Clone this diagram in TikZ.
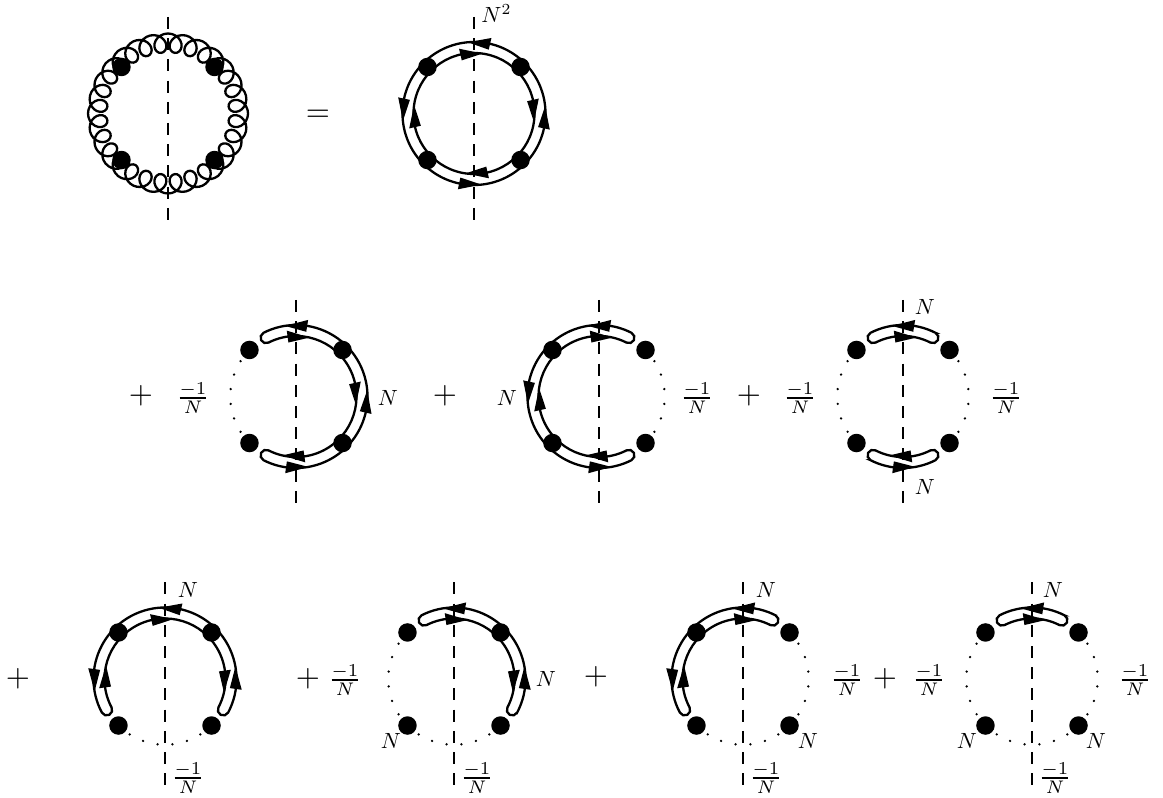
\documentclass[tikz,border=0pt]{standalone}
\usepackage{amsmath,amssymb,amsfonts}
\usepackage{xcolor}
\usepackage{tikz}

\tikzset{
  line/.style={line width=2.3pt},
  cut/.style={line width=2.3pt, dash pattern=on 12pt off 9.2pt},
  blob/.style={circle, fill=black, inner sep=0pt, minimum size=18.5pt},
  lab/.style={inner sep=0pt, scale=2.2},
  frc/.style={inner sep=0pt, scale=2.6},
  big/.style={inner sep=0pt, scale=3.1},
}

% double line running counter-clockwise from angle #1 to angle #2
\newcommand{\bandarc}[2]{
  \draw[line] (#1:71.5) arc[start angle=#1, end angle=#2, radius=71.5]
    arc[start angle=#2, delta angle=180, radius=5.5]
    arc[start angle=#2, end angle=#1, radius=60.5]
    arc[start angle=#1+180, delta angle=180, radius=5.5] -- cycle;
}
% arrow heads on the outer and the inner line
\newcommand{\tipout}[1]{\fill (#1:77.5) -- (#1+18:71.5) -- (#1:65.5) -- cycle;}
\newcommand{\tipin}[1]{\fill (#1:66.5) -- (#1-21:60.5) -- (#1:54.5) -- cycle;}
% six dots, starting from the vertex at angle #1
\newcommand{\dotrun}[1]{
  \foreach \k in {0,...,5} {\fill (#1+12.5+13*\k:65.7) circle[radius=1.3];}
}
\newcommand{\blobs}{
  \node[blob] (ne) at (45:65.8) {};
  \node[blob] (nw) at (135:65.8) {};
  \node[blob] (sw) at (225:65.8) {};
  \node[blob] (se) at (315:65.8) {};
}
\newcommand{\cutline}{
  \coordinate (top) at (0,96.5);
  \coordinate (bot) at (0,-106.5);
  \draw[cut] (top) -- (bot);
}

\begin{document}
\begin{tikzpicture}[x=1pt, y=1pt]
\useasboundingbox (0,0) rectangle (1163,798);

% --- first row ---
\begin{scope}[shift={(168,684.5)}, name prefix=ga-]
  \draw[line] plot[domain=0:360, samples=561, smooth]
    ({70.5*cos(\x)+9.5*cos(29*\x)}, {70.5*sin(\x)+9.5*sin(29*\x)});
  \blobs
  \cutline
\end{scope}
\begin{scope}[shift={(474,684.5)}, name prefix=aa-]
  \draw[line] (0,0) circle[radius=71.5];
  \draw[line] (0,0) circle[radius=60.5];
  \blobs
  \cutline
  \tipout{77} \tipin{103} \tipout{-12} \tipin{13}
  \tipout{168} \tipin{193} \tipout{258} \tipin{283}
\end{scope}
\node[big] (eq) at (318,682) {$=$};
\node[lab, anchor=west] (n2) at (481,784) {$N^2$};

% --- second row ---
\begin{scope}[shift={(296,401.5)}, name prefix=ba-]
  \bandarc{-117}{117}
  \blobs
  \dotrun{135}
  \cutline
  \tipout{81} \tipin{98} \tipout{-13} \tipin{13} \tipout{262} \tipin{278}
\end{scope}
\begin{scope}[shift={(599,401.5)}, name prefix=bb-]
  \bandarc{63}{297}
  \blobs
  \dotrun{-45}
  \cutline
  \tipout{81} \tipin{98} \tipout{168} \tipin{193} \tipout{262} \tipin{278}
\end{scope}
\begin{scope}[shift={(903,401.5)}, name prefix=bc-]
  \bandarc{63}{117}
  \bandarc{243}{297}
  \blobs
  \dotrun{135}
  \dotrun{-45}
  \cutline
  \tipout{81} \tipin{98} \tipout{262} \tipin{278}
\end{scope}

\node[big] (p1) at (141,402) {$+$};
\node[frc] (f1) at (193,400) {$\frac{-1}{N}$};
\node[lab] (n3) at (388,400) {$N$};
\node[big] (p2) at (445,402) {$+$};
\node[lab] (n4) at (507,400) {$N$};
\node[frc] (f2) at (697,400) {$\frac{-1}{N}$};
\node[big] (p3) at (749,402) {$+$};
\node[frc] (f3) at (800,400) {$\frac{-1}{N}$};
\node[lab] (n5) at (925,491) {$N$};
\node[lab] (n6) at (925,311) {$N$};
\node[frc] (f4) at (1006,400) {$\frac{-1}{N}$};

% --- third row ---
\begin{scope}[shift={(165,119)}, name prefix=ca-]
  \bandarc{-28}{208}
  \blobs
  \dotrun{225}
  \cutline
  \tipout{77} \tipin{103} \tipout{-8} \tipin{8} \tipout{172} \tipin{188}
\end{scope}
\begin{scope}[shift={(454,119)}, name prefix=cb-]
  \bandarc{-28}{117}
  \blobs
  \dotrun{135}
  \dotrun{225}
  \cutline
  \tipout{81} \tipin{98} \tipout{-8} \tipin{8}
\end{scope}
\begin{scope}[shift={(743,119)}, name prefix=cc-]
  \bandarc{63}{208}
  \blobs
  \dotrun{-45}
  \dotrun{225}
  \cutline
  \tipout{81} \tipin{98} \tipout{172} \tipin{188}
\end{scope}
\begin{scope}[shift={(1032,119)}, name prefix=cd-]
  \bandarc{63}{117}
  \blobs
  \dotrun{135}
  \dotrun{225}
  \dotrun{-45}
  \cutline
  \tipout{81} \tipin{98}
\end{scope}

\node[big] (p4) at (18,119) {$+$};
\node[lab] (n7) at (188,208) {$N$};
\node[frc] (f5) at (188,20) {$\frac{-1}{N}$};
\node[big] (p5) at (308,119) {$+$};
\node[frc] (f6) at (345,118) {$\frac{-1}{N}$};
\node[lab] (n8) at (546,119) {$N$};
\node[lab] (n9) at (391,57) {$N$};
\node[frc] (f7) at (477,20) {$\frac{-1}{N}$};
\node[big] (p6) at (596,121) {$+$};
\node[lab] (n10) at (766,208) {$N$};
\node[lab] (n11) at (808,57) {$N$};
\node[frc] (f8) at (766,20) {$\frac{-1}{N}$};
\node[frc] (f9) at (847,118) {$\frac{-1}{N}$};
\node[big] (p7) at (885,119) {$+$};
\node[frc] (f10) at (929,118) {$\frac{-1}{N}$};
\node[lab] (n12) at (1053,208) {$N$};
\node[lab] (n13) at (967,57) {$N$};
\node[lab] (n14) at (1096,57) {$N$};
\node[frc] (f11) at (1055,20) {$\frac{-1}{N}$};
\node[frc] (f12) at (1135,118) {$\frac{-1}{N}$};
\end{tikzpicture}
\end{document}
